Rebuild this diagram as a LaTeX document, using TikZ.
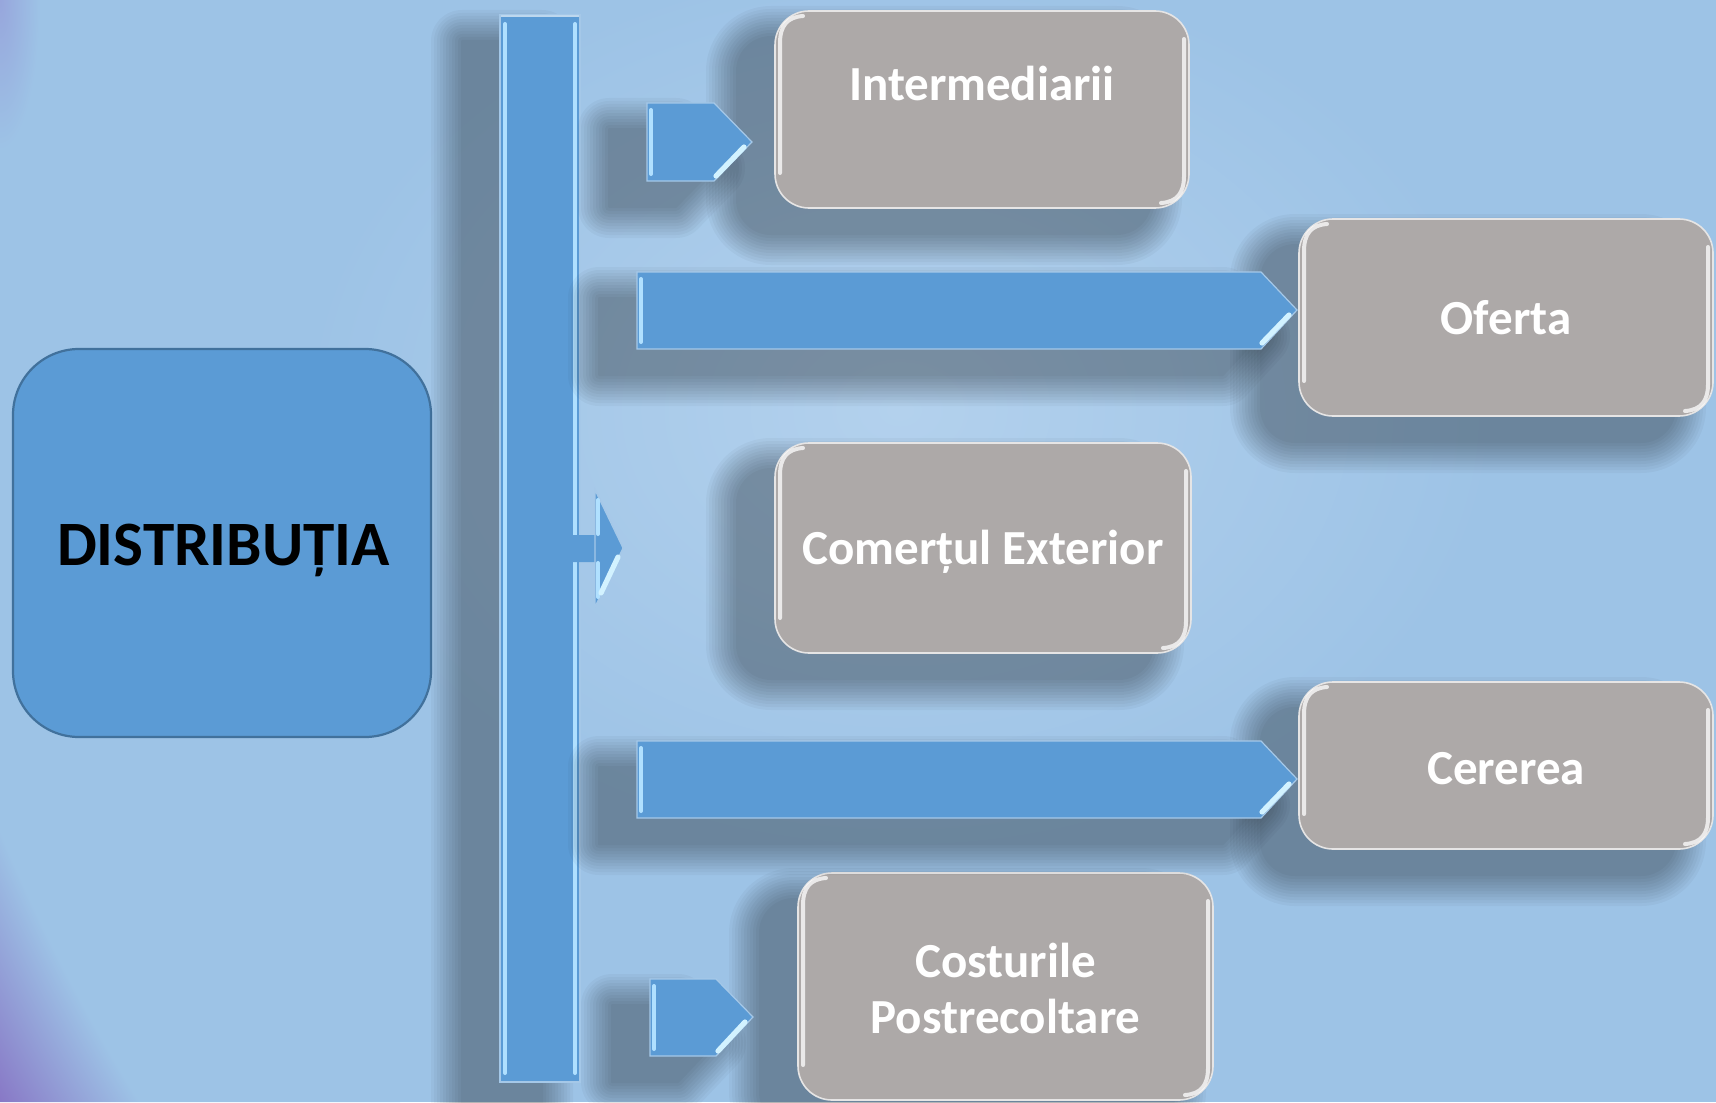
\documentclass[tikz,border=0pt]{standalone}
\usepackage{fontspec}
\setmainfont{Carlito}
\usetikzlibrary{calc}

\definecolor{bgblue}{HTML}{9DC3E6}
\definecolor{glow}{HTML}{B3D1ED}
\definecolor{barblue}{HTML}{5B9BD5}
\definecolor{edgeblue}{HTML}{41719C}
\definecolor{boxgray}{HTML}{ADA9A8}
\definecolor{bevel}{HTML}{B0E0FF}
\definecolor{bevelw}{HTML}{D2F2FF}
\definecolor{purp}{HTML}{8878C6}
\definecolor{purp2}{HTML}{97A6DC}

\pgfdeclareradialshading{purpband}{\pgfpointorigin}{color(0bp)=(bgblue); color(23.5bp)=(bgblue); color(25bp)=(purp); color(50bp)=(purp)}

\tikzset{
  graybox/.style={draw=white!70!boxgray, line width=0.8pt, fill=boxgray,
      rounded corners=17pt, inner sep=0pt},
  gtext/.style={text=white, font=\bfseries\fontsize{24.5}{28.5}\selectfont, inner sep=0pt},
  bluefill/.style={fill=barblue, draw=barblue!55!white, line width=0.6pt},
  bevelline/.style={draw=bevel, line width=2pt, line cap=round},
  bevelhi/.style={draw=bevelw, line width=2.6pt, line cap=round},
  gloss/.style={draw=white, opacity=0.75, line width=2pt, line cap=round},
}

% soft shadow: stacked transparent strokes of the shifted shape
\newcommand{\softshadow}[1]{%
  \foreach \w in {2,8,14,20,26,32,38,44,50,56,62}{%
    \begin{scope}[transparency group, opacity=0.032, xshift=-19pt, yshift=-13pt]
      \filldraw[black, line width=\w*0.5pt, line join=round] #1;
    \end{scope}}%
}

\newcommand{\glossbox}[4]{%
  \draw[gloss] ({#1+5},{#4-35}) -- ({#1+5},{#2+32}) .. controls ({#1+5},{#2+15}) and ({#1+12},{#2+6}) .. ({#1+28},{#2+5});
  \draw[gloss] ({#3-5},{#2+28}) -- ({#3-5},{#4-32}) .. controls ({#3-5},{#4-15}) and ({#3-12},{#4-6}) .. ({#3-28},{#4-5});
}

\begin{document}
\begin{tikzpicture}[x=0.5pt,y=-0.5pt]
\useasboundingbox (0,0) rectangle (1716,1102);

% background
\begin{scope}
  \clip (0,0) rectangle (1716,1102);
  \fill[bgblue] (0,0) rectangle (1716,1102);
  \shade[inner color=glow, outer color=bgblue] (900,410) ellipse [x radius=600, y radius=450];
  \begin{scope}
    \clip (0,600) -- (0,1102) -- (400,1102) -- cycle;
    \shade[shading=purpband] (1736,108) circle [radius=2000];
  \end{scope}
  \shade[inner color=purp2, outer color=bgblue] (0,0) ellipse [x radius=40, y radius=150];
\end{scope}

% left main box
\node[draw=edgeblue, line width=1.1pt, fill=barblue, rounded corners=33pt,
      minimum width=209pt, minimum height=194pt, inner sep=0pt] (distr) at (222,543) {};
\node[anchor=base, inner sep=0pt, font=\bfseries\fontsize{31.6}{36}\selectfont] (tdistr) at (223.5,565) {DISTRIBUȚIA};

% vertical bar
\softshadow{(500,15) rectangle (580,1082)}
\fill[bluefill] (500,15) rectangle (580,1082);
\draw[bevelline] (505,24) -- (505,1073);
\draw[bevelline] (575,24) -- (575,1073);
\draw[draw=barblue!40!white, line width=0.8pt] (501,16) -- (579,16);

% middle arrow from the bar
\fill[barblue] (566,548) -- (572,535) -- (597,535) -- (603,548) -- (597,562) -- (572,562) -- cycle;
\fill[bluefill] (595,490) -- (623,548) -- (595,607) -- cycle;
\draw[bevelline] (598,500) -- (598,534);
\draw[bevelline] (598,563) -- (598,597);
\draw[bevelhi] (618,557) -- (601,593);

% gray boxes
\softshadow{[rounded corners=17pt] (775,11) rectangle (1189,208)}
\node[graybox, minimum width=207pt, minimum height=98.5pt] (inter) at (982,109.5) {};
\glossbox{775}{11}{1189}{208}
\node[gtext, anchor=base] (tinter) at (982,100) {Intermediarii};

\softshadow{[rounded corners=17pt] (1299,219) rectangle (1713,416)}
\node[graybox, minimum width=207pt, minimum height=98.5pt] (ofer) at (1506,317.5) {};
\glossbox{1299}{219}{1713}{416}
\node[gtext, anchor=base] (tofer) at (1506,334) {Oferta};

\softshadow{[rounded corners=17pt] (775,443) rectangle (1191,653)}
\node[graybox, minimum width=208pt, minimum height=105pt] (com) at (983,548) {};
\glossbox{775}{443}{1191}{653}
\node[gtext, anchor=base] (tcom) at (983,564) {Comerțul Exterior};

\softshadow{[rounded corners=17pt] (1299,682) rectangle (1713,849)}
\node[graybox, minimum width=207pt, minimum height=83.5pt] (cer) at (1506,765.5) {};
\glossbox{1299}{682}{1713}{849}
\node[gtext, anchor=base] (tcer) at (1506,784) {Cererea};

\softshadow{[rounded corners=17pt] (798,873) rectangle (1213,1100)}
\node[graybox, minimum width=207.5pt, minimum height=113.5pt] (cos) at (1005.5,986.5) {};
\glossbox{798}{873}{1213}{1100}
\node[gtext, anchor=base] (tcos1) at (1005.5,977) {Costurile};
\node[gtext, anchor=base] (tcos2) at (1005.5,1033) {Postrecoltare};

% arrows
\softshadow{(647,103) -- (714,103) -- (752,142) -- (714,181) -- (647,181) -- cycle}
\fill[bluefill] (647,103) -- (714,103) -- (752,142) -- (714,181) -- (647,181) -- cycle;
\draw[bevelline] (651,110) -- (651,174);
\draw[bevelhi] (744,147) -- (716,176);

\softshadow{(637,272) -- (1261,272) -- (1297,310) -- (1261,349) -- (637,349) -- cycle}
\fill[bluefill] (637,272) -- (1261,272) -- (1297,310) -- (1261,349) -- (637,349) -- cycle;
\draw[bevelline] (641,279) -- (641,342);
\draw[bevelhi] (1289,315) -- (1262,343);

\softshadow{(637,741) -- (1261,741) -- (1297,779) -- (1261,818) -- (637,818) -- cycle}
\fill[bluefill] (637,741) -- (1261,741) -- (1297,779) -- (1261,818) -- (637,818) -- cycle;
\draw[bevelline] (641,748) -- (641,811);
\draw[bevelhi] (1289,784) -- (1262,812);

\softshadow{(650,979) -- (716,979) -- (753,1017) -- (716,1056) -- (650,1056) -- cycle}
\fill[bluefill] (650,979) -- (716,979) -- (753,1017) -- (716,1056) -- (650,1056) -- cycle;
\draw[bevelline] (654,986) -- (654,1049);
\draw[bevelhi] (745,1022) -- (718,1051);

\end{tikzpicture}
\end{document}
